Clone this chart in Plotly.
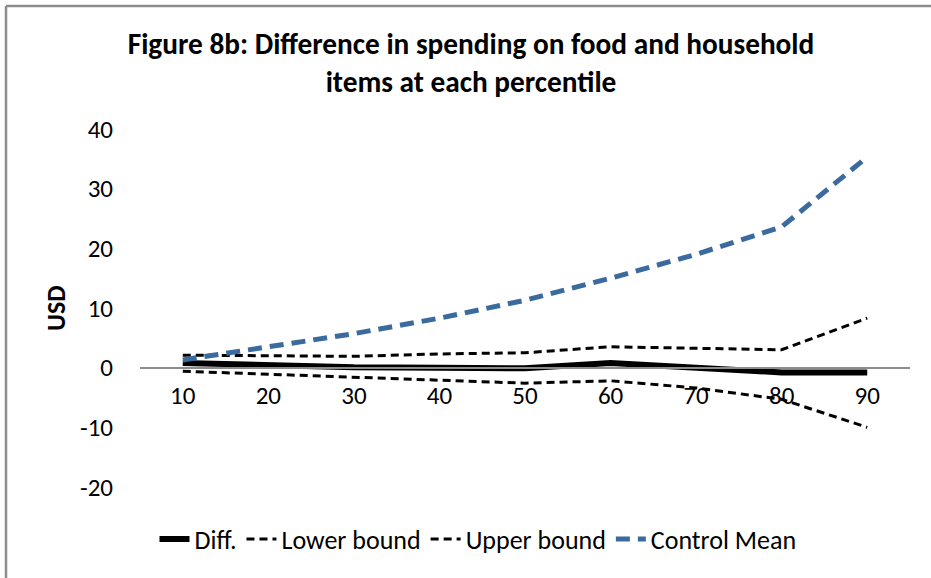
import plotly.graph_objects as go

percentiles = [10, 20, 30, 40, 50, 60, 70, 80, 90]
diff = [0.8, 0.4, 0.05, 0.0, -0.1, 0.8, 0.1, -0.8, -0.8]
lower_bound = [-0.6, -1.1, -1.6, -2.2, -2.6, -2.2, -3.4, -5.3, -10.0]
upper_bound = [2.1, 2.0, 1.9, 2.3, 2.5, 3.5, 3.2, 3.0, 8.3]
control_mean = [1.3, 3.4, 5.7, 8.3, 11.3, 15.0, 19.0, 23.6, 35.3]
y_ticks = [-20, -10, 0, 10, 20, 30, 40]
y_tick_labels = ["-20", "-10", "0", "10", "20", "30", "40"]

FONT = "Carlito, Calibri, Lato, 'Open Sans', sans-serif"

fig = go.Figure()
fig.add_trace(go.Scatter(x=percentiles, y=diff, name="Diff.", mode="lines",
                         line=dict(color="black", width=6)))
fig.add_trace(go.Scatter(x=percentiles, y=lower_bound, name="Lower bound", mode="lines",
                         line=dict(color="black", width=3, dash="8px,5px")))
fig.add_trace(go.Scatter(x=percentiles, y=upper_bound, name="Upper bound", mode="lines",
                         line=dict(color="black", width=3, dash="8px,5px")))
fig.add_trace(go.Scatter(x=percentiles, y=control_mean, name="Control Mean", mode="lines",
                         line=dict(color="#3A6A9E", width=5, dash="14px,8px")))

L, R, T, B = 140, 21, 129, 91
W, H = 931, 578
pw, ph = W - L - R, H - T - B

fig.update_layout(
    width=W, height=H,
    margin=dict(l=L, r=R, t=T, b=B, autoexpand=False),
    paper_bgcolor="white", plot_bgcolor="white",
    font=dict(family=FONT, size=25, color="black"),
    title=dict(text="<b>Figure 8b: Difference in spending on food and household<br>items at each percentile</b>",
               x=471 / W, xanchor="center", y=1 - 54 / H, yanchor="top",
               font=dict(size=29.3, family=FONT)),
    xaxis=dict(range=[5, 95], tickvals=percentiles, ticktext=[str(p) for p in percentiles],
               showgrid=False, zeroline=False, showline=True, linecolor="#8C8C8C", linewidth=1.5,
               ticks="", anchor="free", position=20 / 60, ticklabelstandoff=6,
               tickfont=dict(size=25)),
    yaxis=dict(range=[-20, 40], tickvals=y_ticks, ticktext=y_tick_labels, showgrid=False,
               zeroline=False, showline=False, ticks="", ticklabelstandoff=26,
               tickfont=dict(size=25)),
    legend=dict(orientation="h", x=(478 - L) / pw, xanchor="center",
                y=(H - B - 539) / ph, yanchor="middle", font=dict(size=26),
                bgcolor="rgba(0,0,0,0)"),
    showlegend=True,
)

fig.add_annotation(text="<b>USD</b>", xref="paper", yref="paper", x=(56 - L) / pw, y=0.5,
                   xanchor="center", yanchor="middle", textangle=-90, showarrow=False,
                   font=dict(size=26, family=FONT, color="black"))

# chart frame (left and top edges visible)
x_left = (6 - L) / pw
y_top = (H - B - 6) / ph
fig.add_shape(type="line", xref="paper", yref="paper", x0=x_left, x1=(W - L) / pw,
              y0=y_top, y1=y_top, line=dict(color="#8C8C8C", width=2.5), layer="above")
fig.add_shape(type="line", xref="paper", yref="paper", x0=x_left, x1=x_left,
              y0=y_top, y1=-B / ph, line=dict(color="#8C8C8C", width=2.5), layer="above")

fig.write_html("out.html", config={"displayModeBar": False},
               post_script="document.body.style.margin='0';document.body.style.overflow='hidden';")
